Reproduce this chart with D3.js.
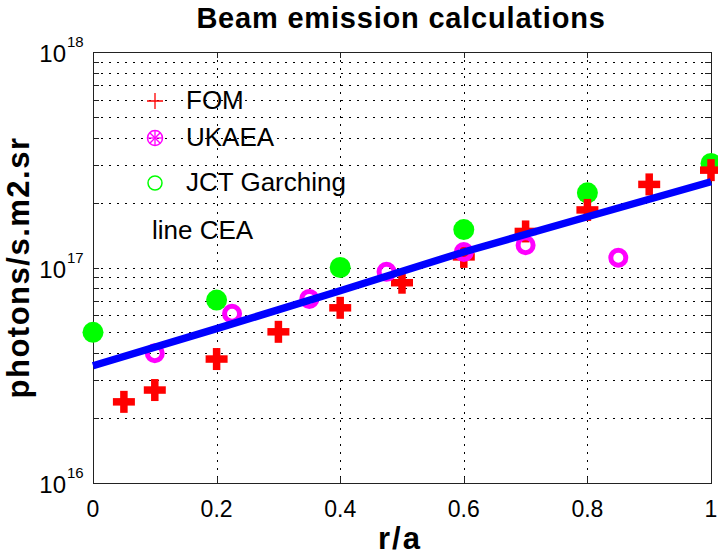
<!DOCTYPE html>
<html>
<head>
<meta charset="utf-8">
<script src="https://cdn.jsdelivr.net/npm/d3@7"></script>
<style>
  html, body { margin: 0; padding: 0; background: #fff; }
  svg { display: block; font-family: "Liberation Sans", Arial, Helvetica, sans-serif; }
</style>
</head>
<body>
<svg id="chart" width="718" height="555"></svg>
<script>
// Beam emission intensity versus normalised radius, from three codes and a CEA fit line
const fomR = [0.05, 0.1, 0.2, 0.3, 0.4, 0.5, 0.6, 0.7, 0.8, 0.9, 1.0];
const fomV = [2.38e16, 2.7e16, 3.76e16, 5.03e16, 6.5e16, 8.5e16, 1.12e17, 1.47e17, 1.85e17, 2.43e17, 2.83e17];

const ukaeaR = [0.1, 0.225, 0.35, 0.475, 0.6, 0.7, 0.85];
const ukaeaV = [4.0e16, 6.1e16, 7.15e16, 9.55e16, 1.18e17, 1.27e17, 1.11e17];

const jctR = [0, 0.2, 0.4, 0.6, 0.8, 1.0];
const jctV = [5.0e16, 7.06e16, 1.0e17, 1.5e17, 2.22e17, 3.04e17];

const ceaR = [0, 0.2, 0.4, 0.6, 0.8, 1.0];
const ceaV = [3.5e16, 5.2e16, 7.8e16, 1.18e17, 1.72e17, 2.5e17];

const xTicks = [0, 0.2, 0.4, 0.6, 0.8, 1];
const xTickLabels = ["0", "0.2", "0.4", "0.6", "0.8", "1"];
const yDecades = [16, 17, 18];

const legendItems = ["FOM", "UKAEA", "JCT Garching"];
const lineLabel = "line CEA";
const titleText = "Beam emission calculations";
const xLabel = "r/a";
const yLabel = "photons/s.m2.sr";

const svg = d3.select("#chart");
const L = 93, R = 711, T = 52, B = 483;

const x = d3.scaleLinear().domain([0, 1]).range([L, R]);
const y = d3.scaleLog().domain([1e16, 1e18]).range([B, T]);

// minor log positions (2..9 within each decade) plus the decades themselves
const yMinor = [];
[1e16, 1e17].forEach(d => { for (let k = 2; k <= 9; k++) yMinor.push(k * d); });
const yAll = yMinor.concat(yDecades.map(e => Math.pow(10, e)));

// dotted grid
const grid = svg.append("g").attr("stroke", "#000").attr("stroke-width", 1)
  .attr("stroke-dasharray", "1.5,6.5").attr("shape-rendering", "crispEdges");
grid.selectAll("line.h").data(yAll.filter(v => v > 1e16 && v < 1e18)).join("line")
  .attr("x1", L).attr("x2", R)
  .attr("y1", d => Math.round(y(d)) + 0.5).attr("y2", d => Math.round(y(d)) + 0.5);
grid.selectAll("line.v").data(xTicks.filter(v => v > 0 && v < 1)).join("line")
  .attr("y1", T).attr("y2", B)
  .attr("x1", d => Math.round(x(d)) + 0.5).attr("x2", d => Math.round(x(d)) + 0.5);

// box axes with inward ticks
const axBottom = d3.axisBottom(x).tickValues(xTicks).tickSize(-6).tickFormat("");
const axTop = d3.axisTop(x).tickValues(xTicks).tickSize(-6).tickFormat("");
const axLeft = d3.axisLeft(y).tickValues(yAll).tickSize(-6).tickFormat("");
const axRight = d3.axisRight(y).tickValues(yAll).tickSize(-6).tickFormat("");
function styleAxis(g) {
  g.selectAll("path,line").attr("stroke", "#222").attr("shape-rendering", "crispEdges");
}
svg.append("g").attr("transform", `translate(0,${B})`).call(axBottom).call(styleAxis);
svg.append("g").attr("transform", `translate(0,${T})`).call(axTop).call(styleAxis);
svg.append("g").attr("transform", `translate(${L},0)`).call(axLeft).call(styleAxis);
svg.append("g").attr("transform", `translate(${R},0)`).call(axRight).call(styleAxis);
svg.selectAll(".domain").attr("stroke", "#222").attr("stroke-width", 1.3);

// tick labels
svg.append("g").selectAll("text").data(xTicks).join("text")
  .attr("x", d => x(d)).attr("y", B + 34)
  .attr("text-anchor", "middle").attr("font-size", 23).attr("fill", "#000")
  .text((d, i) => xTickLabels[i]);

const yl = svg.append("g");
yl.selectAll("text.base").data(yDecades).join("text")
  .attr("x", 66).attr("y", d => y(Math.pow(10, d)) + 10)
  .attr("text-anchor", "end").attr("font-size", 24).attr("fill", "#000").text("10");
yl.selectAll("text.exp").data(yDecades).join("text")
  .attr("x", 67).attr("y", d => y(Math.pow(10, d)) - 5)
  .attr("text-anchor", "start").attr("font-size", 15).attr("fill", "#000").text(d => String(d));

// data series: JCT Garching (green), FOM (red plus), UKAEA (magenta rings), CEA line (blue)
svg.append("g").selectAll("circle").data(jctR).join("circle")
  .attr("cx", d => x(d)).attr("cy", (d, i) => y(jctV[i]))
  .attr("r", 10.5).attr("fill", "#00ff00");

const plus = svg.append("g").attr("stroke", "#ff0000").attr("stroke-width", 7.5);
fomR.forEach((r, i) => {
  const cx = x(r), cy = y(fomV[i]), h = 11;
  plus.append("line").attr("x1", cx - h).attr("x2", cx + h).attr("y1", cy).attr("y2", cy);
  plus.append("line").attr("x1", cx).attr("x2", cx).attr("y1", cy - h).attr("y2", cy + h);
});

svg.append("g").selectAll("circle").data(ukaeaR).join("circle")
  .attr("cx", d => x(d)).attr("cy", (d, i) => y(ukaeaV[i]))
  .attr("r", 7.5).attr("fill", "none").attr("stroke", "#ff00ff").attr("stroke-width", 5);

const line = d3.line().x(d => x(d[0])).y(d => y(d[1]));
svg.append("path").datum(ceaR.map((r, i) => [r, ceaV[i]]))
  .attr("d", line).attr("fill", "none").attr("stroke", "#0000ff").attr("stroke-width", 7.5);

// legend
const lg = svg.append("g");
const rows = [101, 138, 183];
const lx = 155;
lg.append("path").attr("d", `M${lx - 8},${rows[0]}H${lx + 8}M${lx},${rows[0] - 8}V${rows[0] + 8}`)
  .attr("stroke", "#ff0000").attr("stroke-width", 1.3);
lg.append("circle").attr("cx", lx).attr("cy", rows[1]).attr("r", 7.5)
  .attr("fill", "none").attr("stroke", "#ff00ff").attr("stroke-width", 1.5);
[0, 45, 90, 135].forEach(a => {
  const rad = a * Math.PI / 180, c = 7 * Math.cos(rad), s = 7 * Math.sin(rad);
  lg.append("line").attr("x1", lx - c).attr("x2", lx + c).attr("y1", rows[1] - s).attr("y2", rows[1] + s)
    .attr("stroke", "#ff00ff").attr("stroke-width", 1.3);
});
lg.append("circle").attr("cx", lx).attr("cy", rows[2]).attr("r", 7)
  .attr("fill", "none").attr("stroke", "#00ff00").attr("stroke-width", 1.5);
lg.selectAll("text.item").data(legendItems).join("text")
  .attr("x", 186).attr("y", (d, i) => rows[i] + 8)
  .attr("font-size", 26).attr("fill", "#000").text(d => d);
lg.append("text").attr("x", 152).attr("y", 239).attr("font-size", 26).attr("fill", "#000").text(lineLabel);

// title and axis labels
svg.append("text").attr("x", 401).attr("y", 28).attr("text-anchor", "middle")
  .attr("font-size", 29).attr("font-weight", "bold").attr("letter-spacing", 0.8)
  .attr("fill", "#000").text(titleText);
svg.append("text").attr("x", 400).attr("y", 549).attr("text-anchor", "middle")
  .attr("font-size", 31).attr("font-weight", "bold").attr("letter-spacing", 2)
  .attr("fill", "#000").text(xLabel);
svg.append("text").attr("transform", `translate(29,${(T + B) / 2}) rotate(-90)`)
  .attr("text-anchor", "middle").attr("font-size", 31).attr("font-weight", "bold")
  .attr("letter-spacing", 1.5).attr("fill", "#000").text(yLabel);
</script>
</body>
</html>
